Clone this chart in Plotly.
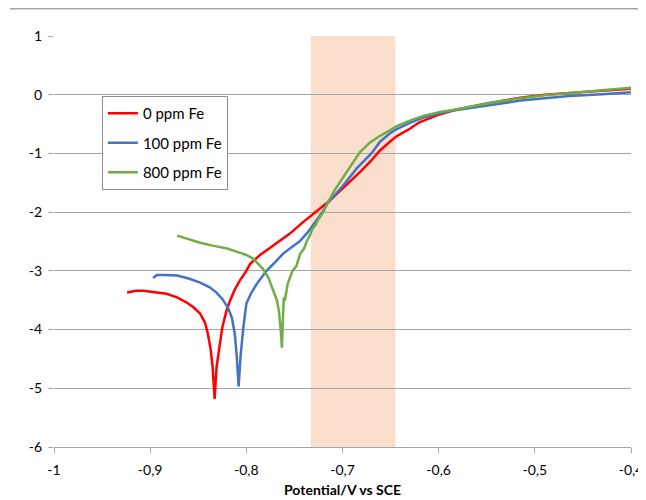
import plotly.graph_objects as go

# ---- data ----
red_x = [-0.924, -0.915, -0.907, -0.895, -0.883, -0.872, -0.862, -0.855, -0.848, -0.843,
         -0.840, -0.837, -0.835, -0.833, -0.831, -0.828, -0.825, -0.821, -0.817, -0.812,
         -0.807, -0.800, -0.796, -0.785, -0.772, -0.755, -0.741, -0.727, -0.716,
         -0.700, -0.690, -0.680, -0.670, -0.661, -0.650, -0.643, -0.630, -0.620, -0.600,
         -0.585, -0.550, -0.515, -0.490, -0.464, -0.430, -0.400]
red_y = [-3.37, -3.34, -3.34, -3.36, -3.39, -3.45, -3.54, -3.62, -3.73, -3.88,
         -4.07, -4.35, -4.65, -5.18, -4.65, -4.30, -3.97, -3.70, -3.51, -3.32,
         -3.17, -3.00, -2.88, -2.72, -2.57, -2.37, -2.17, -1.99, -1.84,
         -1.60, -1.45, -1.29, -1.12, -0.95, -0.79, -0.70, -0.58, -0.47, -0.34,
         -0.27, -0.15, -0.05, 0.00, 0.03, 0.07, 0.10]

blue_x = [-0.897, -0.893, -0.885, -0.872, -0.860, -0.848, -0.838, -0.831, -0.825, -0.819,
          -0.815, -0.812, -0.810, -0.808, -0.806, -0.805, -0.803, -0.800, -0.795, -0.789,
          -0.779, -0.770, -0.762, -0.753, -0.744, -0.736, -0.729, -0.721, -0.716, -0.700,
          -0.685, -0.670, -0.661, -0.650, -0.643, -0.630, -0.616, -0.600, -0.585, -0.550,
          -0.515, -0.490, -0.464, -0.430, -0.400]
blue_y = [-3.12, -3.07, -3.07, -3.08, -3.13, -3.20, -3.28, -3.37, -3.48, -3.63,
          -3.80, -4.07, -4.45, -4.97, -4.45, -4.24, -3.95, -3.56, -3.38, -3.22,
          -3.00, -2.85, -2.71, -2.60, -2.49, -2.34, -2.18, -2.00, -1.86, -1.56,
          -1.25, -1.00, -0.80, -0.65, -0.58, -0.48, -0.39, -0.32, -0.27, -0.18,
          -0.10, -0.06, -0.02, 0.01, 0.04]

green_x = [-0.872, -0.860, -0.848, -0.835, -0.820, -0.807, -0.800, -0.793, -0.783, -0.777,
           -0.773, -0.768, -0.766, -0.765, -0.764, -0.763, -0.7625, -0.762, -0.761, -0.760,
           -0.757, -0.755, -0.752, -0.748, -0.746, -0.744, -0.740, -0.737, -0.734, -0.731,
           -0.728, -0.725, -0.720, -0.716, -0.708, -0.700, -0.695, -0.682, -0.672, -0.661,
           -0.650, -0.643, -0.630, -0.616, -0.600, -0.585, -0.550, -0.515, -0.490, -0.464,
           -0.430, -0.400]
green_y = [-2.40, -2.46, -2.52, -2.57, -2.62, -2.69, -2.73, -2.79, -2.96, -3.12,
           -3.29, -3.51, -3.70, -3.85, -4.05, -4.31, -3.90, -3.85, -3.45, -3.51,
           -3.22, -3.12, -3.00, -2.92, -2.80, -2.71, -2.62, -2.49, -2.40, -2.28,
           -2.22, -2.12, -2.00, -1.86, -1.62, -1.42, -1.29, -0.98, -0.82, -0.70,
           -0.60, -0.53, -0.44, -0.36, -0.30, -0.26, -0.15, -0.06, -0.01, 0.03,
           0.08, 0.12]

series_names = ["0 ppm Fe", "100 ppm Fe", "800 ppm Fe"]
band_x = [-0.733, -0.645]
x_tickvals = [-1, -0.9, -0.8, -0.7, -0.6, -0.5, -0.4]
x_ticktext = ["-1", "-0,9", "-0,8", "-0,7", "-0,6", "-0,5", "-0,4"]
y_tickvals = [1, 0, -1, -2, -3, -4, -5, -6]
y_ticktext = ["1", "0", "-1", "-2", "-3", "-4", "-5", "-6"]

FONT = "Lato, Carlito, 'Liberation Sans', sans-serif"

fig = go.Figure()
for xs, ys, name, col in [(red_x, red_y, series_names[0], "#FF0000"),
                          (blue_x, blue_y, series_names[1], "#4472C4"),
                          (green_x, green_y, series_names[2], "#70AD47")]:
    fig.add_trace(go.Scatter(x=xs, y=ys, mode="lines", name=name, legendgroup=name,
                             line=dict(color=col, width=2.5)))

fig.add_shape(type="rect", xref="x", yref="y", x0=band_x[0], x1=band_x[1], y0=-6, y1=1,
              fillcolor="rgb(250,224,204)", line=dict(width=0), layer="below")
fig.add_shape(type="line", xref="paper", yref="paper", x0=-0.076, x1=1.05, y0=1.066, y1=1.066,
              line=dict(color="#a6a6a6", width=1.5))

fig.update_layout(
    width=646, height=500,
    margin=dict(l=46, r=23, t=28, b=61, autoexpand=False),
    paper_bgcolor="white", plot_bgcolor="white",
    font=dict(family=FONT, size=14, color="#000000"),
    showlegend=True,
    legend=dict(x=0.083, y=0.854, xanchor="left", yanchor="top",
                bgcolor="white", bordercolor="#8c8c8c", borderwidth=1,
                font=dict(family=FONT, size=15), tracegroupgap=7,
                traceorder="grouped"),
    xaxis=dict(range=[-1, -0.4], tickvals=x_tickvals, ticktext=x_ticktext,
               showgrid=False, zeroline=False, showline=True, linecolor="#a6a6a6",
               linewidth=1, ticks="outside", tickcolor="#a6a6a6", ticklen=5,
               ticklabelstandoff=5, automargin=False,
               title=dict(text="<b>Potential/V vs SCE</b>", font=dict(family=FONT, size=14), standoff=8),
               tickfont=dict(family=FONT, size=14)),
    yaxis=dict(range=[-6, 1], tickvals=y_tickvals, ticktext=y_ticktext,
               showgrid=True, gridcolor="#a6a6a6", gridwidth=1, zeroline=False,
               showline=False, ticks="outside", tickcolor="#a6a6a6", ticklen=5,
               ticklabelstandoff=3, automargin=False,
               tickfont=dict(family=FONT, size=14)),
)

fig.write_html("out.html")
